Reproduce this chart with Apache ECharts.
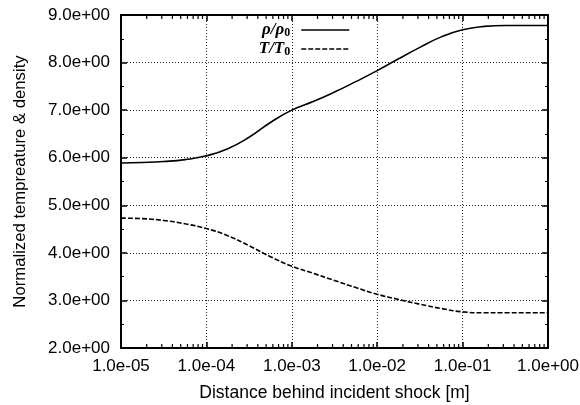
<!DOCTYPE html>
<html>
<head>
<meta charset="utf-8">
<script src="https://cdn.jsdelivr.net/npm/echarts@6/dist/echarts.min.js"></script>
<style>
  html, body { margin: 0; padding: 0; background: #fff; }
  #chart { width: 580px; height: 405px; }
</style>
</head>
<body>
<div id="chart"></div>
<script>
// Distance behind the incident shock [m], quarter-decade stations
const distance = [
  1e-5, 1.78e-5, 3.16e-5, 5.62e-5,
  1e-4, 1.78e-4, 3.16e-4, 5.62e-4,
  1e-3, 1.78e-3, 3.16e-3, 5.62e-3,
  1e-2, 1.78e-2, 3.16e-2, 5.62e-2,
  1e-1, 1.78e-1, 3.16e-1, 1
];
// Normalized density rho/rho0
const densityRatio = [
  5.89, 5.90, 5.92, 5.96,
  6.04, 6.19, 6.43, 6.74,
  7.00, 7.18, 7.38, 7.60,
  7.83, 8.08, 8.32, 8.54,
  8.69, 8.76, 8.78, 8.78
];
// Normalized temperature T/T0
const temperatureRatio = [
  4.73, 4.72, 4.68, 4.61,
  4.51, 4.36, 4.15, 3.92,
  3.72, 3.57, 3.42, 3.27,
  3.13, 3.02, 2.92, 2.83,
  2.76, 2.74, 2.74, 2.74
];
// Axis ranges
const xRange = [1e-5, 1];
const yRange = [2, 9];
const yStep = 1;
// Minor log ticks (2..9 within each decade)
const decades = [1e-5, 1e-4, 1e-3, 1e-2, 1e-1];
const minorSteps = [2, 3, 4, 5, 6, 7, 8, 9];

const minorTicks = [];
decades.forEach(d => minorSteps.forEach(m => minorTicks.push([d * m, yRange[0]])));

function sci(v) {
  const s = Number(v).toExponential(1);
  return s.replace(/e([+-])(\d)$/, 'e$10$2');
}

const FONT = 'Liberation Sans, Arial, sans-serif';
const chart = echarts.init(document.getElementById('chart'), null, { renderer: 'canvas' });

const frameLine = { show: true, lineStyle: { color: '#000', width: 2 } };
const gridLine = { show: true, lineStyle: { color: '#222', width: 1, type: [1, 2] } };
const majorTick = { show: true, inside: true, length: 6, lineStyle: { color: '#000', width: 1.5 } };
const halfTick = { show: true, splitNumber: 2, length: 3, lineStyle: { color: '#000', width: 1 } };

chart.setOption({
  animation: false,
  backgroundColor: '#fff',
  grid: { left: 121, right: 32, top: 15, bottom: 57, containLabel: false, outerBoundsMode: 'none' },
  legend: {
    orient: 'vertical',
    right: 225,
    top: 16,
    align: 'right',
    itemWidth: 48,
    itemHeight: 12,
    itemGap: 1,
    data: ['rho', 'T'],
    itemStyle: { opacity: 0 },
    lineStyle: { width: 1.5 },
    formatter: function (name) {
      return name === 'rho' ? '{m|ρ/ρ}{s|0}{g|}' : '{m|T/T}{s|0}{g|}';
    },
    textStyle: {
      rich: {
        m: { fontFamily: 'Liberation Serif, serif', fontStyle: 'italic', fontWeight: 'bold', fontSize: 17, lineHeight: 15, color: '#000' },
        s: { fontFamily: 'Liberation Serif, serif', fontWeight: 'bold', fontSize: 12, lineHeight: 15, color: '#000', padding: [6, 0, 0, 0] },
        g: { width: 6 }
      }
    }
  },
  xAxis: [
    {
      type: 'log', logBase: 10, min: xRange[0], max: xRange[1],
      name: 'Distance behind incident shock [m]',
      nameLocation: 'middle', nameGap: 36,
      nameTextStyle: { fontFamily: FONT, fontSize: 17.5, color: '#000' },
      axisLine: frameLine,
      axisTick: majorTick,
      axisLabel: { fontFamily: FONT, fontSize: 17, color: '#000', margin: 10, formatter: sci },
      splitLine: gridLine
    },
    {
      type: 'log', logBase: 10, min: xRange[0], max: xRange[1], position: 'top',
      axisLine: frameLine,
      axisTick: majorTick,
      axisLabel: { show: false },
      splitLine: { show: false }
    }
  ],
  yAxis: [
    {
      type: 'value', min: yRange[0], max: yRange[1], interval: yStep,
      name: 'Normalized tempreature & density',
      nameLocation: 'middle', nameGap: 92,
      nameTextStyle: { fontFamily: FONT, fontSize: 16.7, color: '#000' },
      axisLine: frameLine,
      axisTick: majorTick,
      minorTick: halfTick,
      axisLabel: { fontFamily: FONT, fontSize: 17, color: '#000', margin: 11, formatter: sci },
      splitLine: gridLine
    },
    {
      type: 'value', min: yRange[0], max: yRange[1], interval: yStep, position: 'right',
      axisLine: frameLine,
      axisTick: majorTick,
      minorTick: halfTick,
      axisLabel: { show: false },
      splitLine: { show: false }
    }
  ],
  series: [
    {
      name: 'rho', type: 'line', symbol: 'none', smooth: 0.5,
      data: distance.map((x, i) => [x, densityRatio[i]]),
      lineStyle: { color: '#000', width: 1.6, type: 'solid' },
      itemStyle: { color: '#000' }
    },
    {
      name: 'T', type: 'line', symbol: 'none', smooth: 0.5,
      data: distance.map((x, i) => [x, temperatureRatio[i]]),
      lineStyle: { color: '#000', width: 1.6, type: [5, 2] },
      itemStyle: { color: '#000' }
    },
    {
      // minor decade ticks on the bottom and top frame
      type: 'custom', silent: true, clip: false,
      data: minorTicks,
      renderItem: function (params, api) {
        const bottom = api.coord([api.value(0), yRange[0]]);
        const top = api.coord([api.value(0), yRange[1]]);
        const style = { stroke: '#000', lineWidth: 1.2 };
        return {
          type: 'group',
          children: [
            { type: 'line', shape: { x1: bottom[0], y1: bottom[1], x2: bottom[0], y2: bottom[1] - 4 }, style },
            { type: 'line', shape: { x1: top[0], y1: top[1], x2: top[0], y2: top[1] + 4 }, style }
          ]
        };
      }
    }
  ]
});
</script>
</body>
</html>
